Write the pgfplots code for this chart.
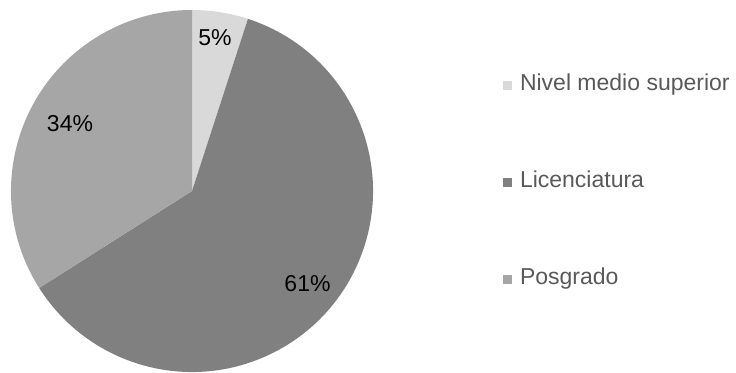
\documentclass[border=0pt]{standalone}
\usepackage{fontspec}
\setmainfont{Liberation Sans}
\usepackage{pgfplots}
\pgfplotsset{compat=1.18}
\definecolor{cLight}{HTML}{D9D9D9}
\definecolor{cDark}{HTML}{808080}
\definecolor{cMid}{HTML}{A6A6A6}
\definecolor{cText}{HTML}{595959}
% shares in percent
\def\vA{5}
\def\vB{61}
\def\vC{34}
\begin{document}
\begin{tikzpicture}[font=\fontsize{23bp}{27bp}\selectfont]
\begin{axis}[name=ax,
  scale only axis, width=736bp, height=373bp,
  xmin=0, xmax=736, ymin=0, ymax=373,
  hide axis, clip=false,
  legend cell align=left,
  legend style={at={(axis cs:503,298)}, anchor=north west, draw=none, fill=none,
    inner sep=0pt, outer sep=0pt, row sep=76bp,
    nodes={inner sep=0pt, text height=16bp, text depth=5bp, text=cText,
      font=\fontsize{23bp}{27bp}\selectfont},
    /tikz/every even column/.append style={column sep=0pt}},
  legend image code/.code={\fill[#1] (0bp,-4.5bp) rectangle (9bp,4.5bp);},
]
\pgfmathsetmacro{\aA}{90}
\pgfmathsetmacro{\aB}{90-\vA*3.6}
\pgfmathsetmacro{\aC}{\aB-\vB*3.6}
\pgfmathsetmacro{\aD}{\aC-\vC*3.6}
\fill[cLight] (axis cs:192,182) -- +(\aA:181bp) arc[start angle=\aA, end angle=\aB, radius=181bp] -- cycle;
\fill[cDark] (axis cs:192,182) -- +(\aB:181bp) arc[start angle=\aB, end angle=\aC, radius=181bp] -- cycle;
\fill[cMid] (axis cs:192,182) -- +(\aC:181bp) arc[start angle=\aC, end angle=\aD, radius=181bp] -- cycle;
\node at (axis cs:215,335) {5\%};
\node at (axis cs:70,249) {34\%};
\node at (axis cs:307.5,89) {61\%};
\addlegendimage{fill=cLight, draw=none}
\addlegendentry{\hspace{8bp}Nivel medio superior}
\addlegendimage{fill=cDark, draw=none}
\addlegendentry{\hspace{8bp}Licenciatura}
\addlegendimage{fill=cMid, draw=none}
\addlegendentry{\hspace{8bp}Posgrado}
\end{axis}
\pgfresetboundingbox
\path (ax.south west) rectangle (ax.north east);
\end{tikzpicture}
\end{document}
